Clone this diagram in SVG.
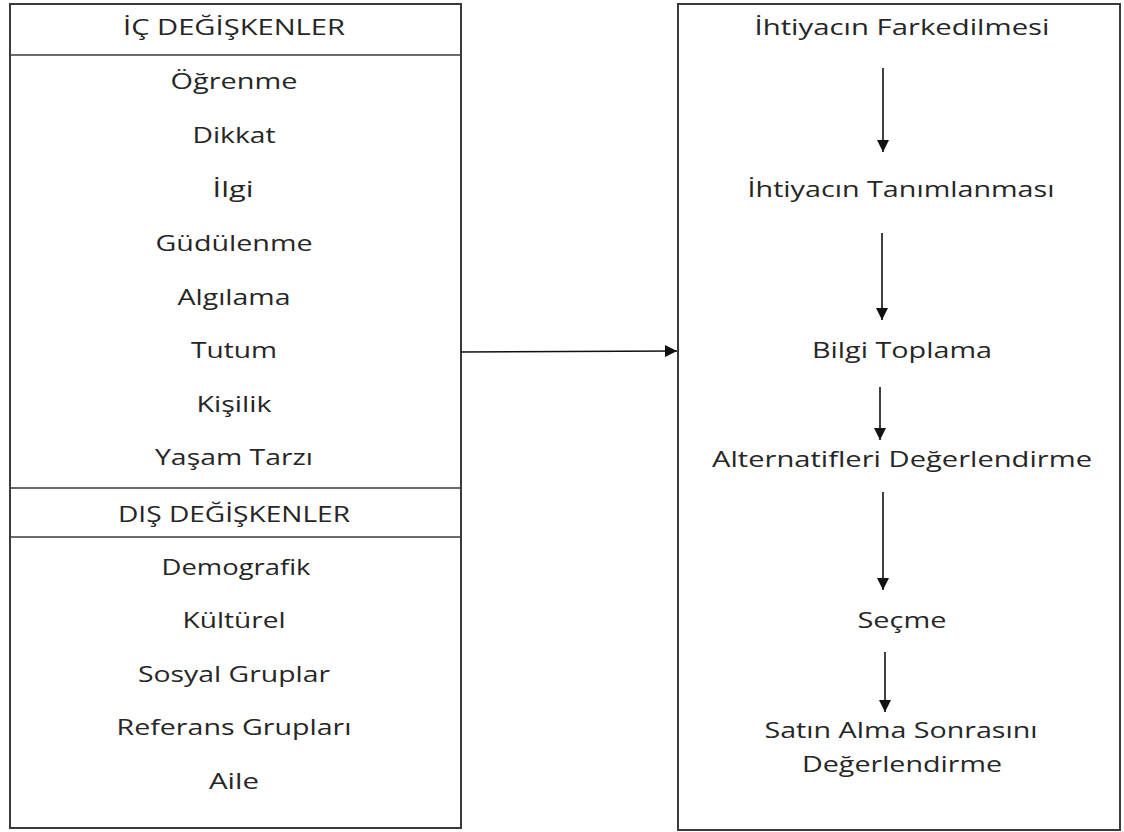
<svg xmlns="http://www.w3.org/2000/svg" width="1124" height="832" viewBox="0 0 1124 832">
  <style>
    .box { fill: #ffffff; stroke: #3a3a3a; stroke-width: 2; }
    .div { stroke: #3a3a3a; stroke-width: 1.6; fill: none; }
    .lbl { font-family: "Open Sans", "Liberation Sans", sans-serif; font-size: 21px; fill: #262626; text-anchor: middle; }
    .conn { stroke: #111111; stroke-width: 1.6; fill: none; marker-end: url(#head); }
  </style>
  <defs>
    <marker id="head" viewBox="0 0 12 12" refX="12" refY="6" markerWidth="12" markerHeight="12" markerUnits="userSpaceOnUse" orient="auto">
      <path d="M0,0 L12,6 L0,12 Z" fill="#111111"/>
    </marker>
  </defs>

  <rect width="1124" height="832" fill="#ffffff"/>

  <!-- Left panel: internal and external variables -->
  <g id="variables">
    <rect class="box" x="10" y="4" width="451" height="824"/>
    <line class="div" x1="10" y1="55" x2="461" y2="55"/>
    <line class="div" x1="10" y1="488" x2="461" y2="488"/>
    <line class="div" x1="10" y1="537" x2="461" y2="537"/>
  </g>
  <g id="ic-degiskenler">
    <text class="lbl" x="234" y="35" textLength="222" lengthAdjust="spacingAndGlyphs">İÇ DEĞİŞKENLER</text>
    <text class="lbl" x="234" y="89" textLength="127" lengthAdjust="spacingAndGlyphs">Öğrenme</text>
    <text class="lbl" x="234" y="143" textLength="83" lengthAdjust="spacingAndGlyphs">Dikkat</text>
    <text class="lbl" x="233" y="197" textLength="41" lengthAdjust="spacingAndGlyphs">İlgi</text>
    <text class="lbl" x="234" y="251" textLength="157" lengthAdjust="spacingAndGlyphs">Güdülenme</text>
    <text class="lbl" x="234" y="305" textLength="113" lengthAdjust="spacingAndGlyphs">Algılama</text>
    <text class="lbl" x="234" y="358" textLength="86" lengthAdjust="spacingAndGlyphs">Tutum</text>
    <text class="lbl" x="234" y="412" textLength="75" lengthAdjust="spacingAndGlyphs">Kişilik</text>
    <text class="lbl" x="234" y="465" textLength="158" lengthAdjust="spacingAndGlyphs">Yaşam Tarzı</text>
  </g>
  <g id="dis-degiskenler">
    <text class="lbl" x="234" y="522" textLength="232" lengthAdjust="spacingAndGlyphs">DIŞ DEĞİŞKENLER</text>
    <text class="lbl" x="236" y="575" textLength="149" lengthAdjust="spacingAndGlyphs">Demografik</text>
    <text class="lbl" x="234" y="628" textLength="103" lengthAdjust="spacingAndGlyphs">Kültürel</text>
    <text class="lbl" x="234" y="682" textLength="192" lengthAdjust="spacingAndGlyphs">Sosyal Gruplar</text>
    <text class="lbl" x="234" y="735" textLength="235" lengthAdjust="spacingAndGlyphs">Referans Grupları</text>
    <text class="lbl" x="234" y="789" textLength="50" lengthAdjust="spacingAndGlyphs">Aile</text>
  </g>

  <!-- Right panel: decision process -->
  <g id="karar-sureci">
    <rect class="box" x="678" y="4" width="442" height="826"/>
  </g>
  <g id="ihtiyacin-farkedilmesi">
    <text class="lbl" x="902" y="35" textLength="295" lengthAdjust="spacingAndGlyphs">İhtiyacın Farkedilmesi</text>
  </g>
  <g id="ihtiyacin-tanimlanmasi">
    <text class="lbl" x="901" y="197" textLength="307" lengthAdjust="spacingAndGlyphs">İhtiyacın Tanımlanması</text>
  </g>
  <g id="bilgi-toplama">
    <text class="lbl" x="902" y="358" textLength="180" lengthAdjust="spacingAndGlyphs">Bilgi Toplama</text>
  </g>
  <g id="alternatifleri-degerlendirme">
    <text class="lbl" x="902" y="467" textLength="380" lengthAdjust="spacingAndGlyphs">Alternatifleri Değerlendirme</text>
  </g>
  <g id="secme">
    <text class="lbl" x="902" y="628" textLength="89" lengthAdjust="spacingAndGlyphs">Seçme</text>
  </g>
  <g id="satin-alma-sonrasi">
    <text class="lbl" x="901" y="738" textLength="273" lengthAdjust="spacingAndGlyphs">Satın Alma Sonrasını</text>
    <text class="lbl" x="902" y="772" textLength="200" lengthAdjust="spacingAndGlyphs">Değerlendirme</text>
  </g>

  <!-- Connectors -->
  <g id="connectors">
    <line class="conn" x1="461" y1="352" x2="677" y2="351"/>
    <line class="conn" x1="883" y1="68" x2="883" y2="152"/>
    <line class="conn" x1="882" y1="233" x2="882" y2="320"/>
    <line class="conn" x1="880" y1="387" x2="880" y2="440"/>
    <line class="conn" x1="883" y1="492" x2="883" y2="590"/>
    <line class="conn" x1="885" y1="652" x2="885" y2="712"/>
  </g>
</svg>
